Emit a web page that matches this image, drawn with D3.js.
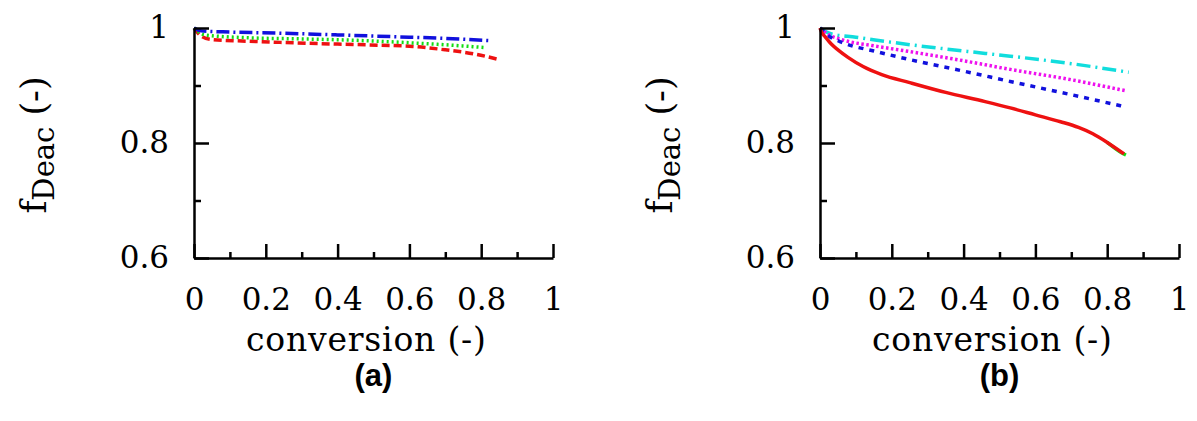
<!DOCTYPE html>
<html>
<head>
<meta charset="utf-8">
<script src="https://cdn.jsdelivr.net/npm/d3@7"></script>
<style>
  body { margin: 0; background: #fff; }
</style>
</head>
<body>
<div id="vis"></div>
<script>
// values
const xTicksMajor = [0, 0.2, 0.4, 0.6, 0.8, 1];
const xTicksMinor = [0.1, 0.3, 0.5, 0.7, 0.9];
const yTicksMajor = [0.6, 0.8, 1];
const yTicksMinor = [0.7, 0.9];

// panel (a)
const aBlue = [[0, 1], [0.02, 0.995], [0.1, 0.993], [0.24, 0.991], [0.4, 0.988], [0.55, 0.985], [0.7, 0.982], [0.825, 0.978]];
const aGreen = [[0, 1], [0.03, 0.988], [0.15, 0.983], [0.3, 0.981], [0.43, 0.979], [0.61, 0.974], [0.72, 0.97], [0.81, 0.966]];
const aRed = [[0, 1], [0.02, 0.986], [0.05, 0.98], [0.15, 0.977], [0.24, 0.975], [0.4, 0.972], [0.52, 0.97], [0.61, 0.968], [0.7, 0.962], [0.78, 0.955], [0.85, 0.945]];

// panel (b)
const bCyan = [[0, 1], [0.03, 0.99], [0.1, 0.984], [0.25, 0.971], [0.4, 0.96], [0.53, 0.951], [0.7, 0.938], [0.86, 0.923]];
const bMagenta = [[0, 1], [0.02, 0.99], [0.065, 0.979], [0.15, 0.969], [0.25, 0.959], [0.4, 0.943], [0.53, 0.928], [0.7, 0.91], [0.85, 0.891]];
const bBlue = [[0, 1], [0.02, 0.988], [0.065, 0.974], [0.15, 0.96], [0.25, 0.945], [0.4, 0.925], [0.53, 0.907], [0.7, 0.884], [0.85, 0.863]];
const bGreen = [[0.8, 0.801], [0.84, 0.783], [0.852, 0.779]];
const bRed = [[0, 1], [0.005, 0.992], [0.014, 0.985], [0.03, 0.973], [0.05, 0.962], [0.078, 0.949], [0.12, 0.933], [0.172, 0.919], [0.25, 0.905], [0.35, 0.888], [0.46, 0.872], [0.53, 0.861], [0.6, 0.849], [0.67, 0.837], [0.72, 0.827], [0.76, 0.816], [0.8, 0.801], [0.847, 0.781]];

const panels = [
    {
        left: 194, label: '(a)',
        series: [
            { data: aRed, color: '#ee1111', dash: '8,4' },
            { data: aGreen, color: '#11dd11', dash: '2,3' },
            { data: aBlue, color: '#1111dd', dash: '13,4,2,4' }
        ]
    },
    {
        left: 820, label: '(b)',
        series: [
            { data: bCyan, color: '#11dddd', dash: '14,5,2,5' },
            { data: bMagenta, color: '#ee11ee', dash: '2.5,2.5' },
            { data: bBlue, color: '#1111dd', dash: '5,6' },
            { data: bGreen, color: '#11dd11', dash: null },
            { data: bRed, color: '#ee1111', dash: null }
        ]
    }
];

const dimensions = { width: 1197, height: 421, top: 28, bottom: 258, plotWidth: 359 };
const serif = '"DejaVu Serif", serif';

const svg = d3.select('#vis')
    .append('svg')
    .attr('width', dimensions.width)
    .attr('height', dimensions.height);

panels.forEach(p => {
    const xScale = d3.scaleLinear().domain([0, 1]).range([p.left, p.left + dimensions.plotWidth]);
    const yScale = d3.scaleLinear().domain([0.6, 1]).range([dimensions.bottom, dimensions.top]);

    const g = svg.append('g');

    // lines
    const line = d3.line()
        .x(d => xScale(d[0]))
        .y(d => yScale(d[1]))
        .curve(d3.curveMonotoneX);

    p.series.forEach(s => {
        g.append('path')
            .datum(s.data)
            .attr('d', line)
            .attr('fill', 'none')
            .attr('stroke', s.color)
            .attr('stroke-width', 3.5)
            .attr('stroke-dasharray', s.dash);
    });

    // minor ticks
    g.append('g')
        .attr('transform', `translate(0,${dimensions.bottom})`)
        .call(d3.axisBottom(xScale).tickValues(xTicksMinor).tickSize(-6).tickSizeOuter(0).tickFormat(''))
        .call(a => a.select('.domain').remove());
    g.append('g')
        .attr('transform', `translate(${p.left},0)`)
        .call(d3.axisLeft(yScale).tickValues(yTicksMinor).tickSize(-7).tickSizeOuter(0).tickFormat(''))
        .call(a => a.select('.domain').remove());

    // major axes
    g.append('g')
        .attr('transform', `translate(0,${dimensions.bottom})`)
        .call(d3.axisBottom(xScale).tickValues(xTicksMajor).tickSize(-14).tickSizeOuter(0).tickPadding(30).tickFormat(d3.format('')));
    g.append('g')
        .attr('transform', `translate(${p.left},0)`)
        .call(d3.axisLeft(yScale).tickValues(yTicksMajor).tickSize(-15).tickSizeOuter(0).tickPadding(25).tickFormat(d3.format('')));

    g.selectAll('.domain, .tick line')
        .attr('stroke', '#000')
        .attr('stroke-width', 2.5);
    g.selectAll('.tick text')
        .attr('fill', '#000')
        .attr('font-family', serif)
        .attr('font-size', 31);

    // axis titles
    g.append('text')
        .attr('x', xScale(0.48))
        .attr('y', 351)
        .attr('text-anchor', 'middle')
        .attr('font-family', serif)
        .attr('font-size', 33)
        .attr('letter-spacing', 0.8)
        .text('conversion (-)');

    const yTitle = g.append('text')
        .attr('transform', `translate(${p.left - 148},145) rotate(-90)`)
        .attr('text-anchor', 'middle')
        .attr('font-family', serif)
        .attr('font-size', 35);
    yTitle.append('tspan').text('f');
    yTitle.append('tspan').attr('dy', 8).attr('font-size', 29).text('Deac');
    yTitle.append('tspan').attr('dy', -8).text(' (-)');

    g.append('text')
        .attr('x', xScale(0.5))
        .attr('y', 386)
        .attr('text-anchor', 'middle')
        .attr('font-family', '"Liberation Sans", Arial, sans-serif')
        .attr('font-weight', 'bold')
        .attr('font-size', 31)
        .text(p.label);
});
</script>
</body>
</html>
